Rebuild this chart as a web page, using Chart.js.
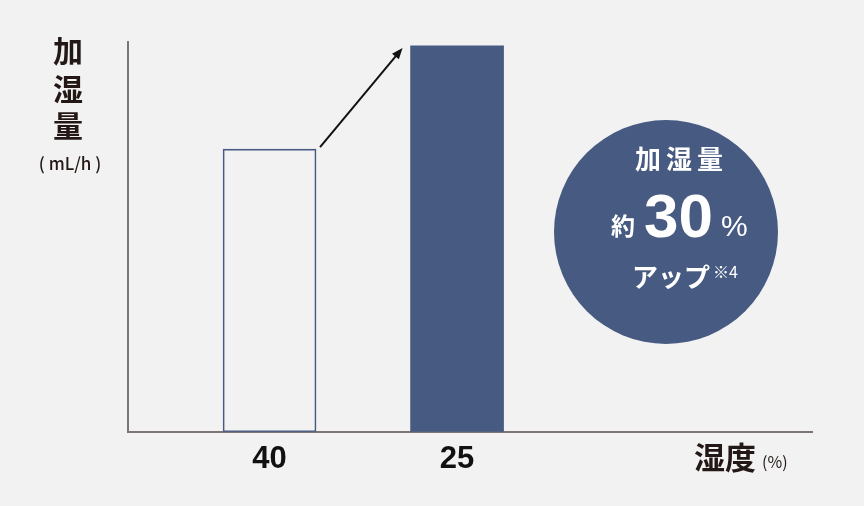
<!DOCTYPE html>
<html lang="ja">
<head>
<meta charset="utf-8">
<title>加湿量</title>
<script src="https://cdn.jsdelivr.net/npm/chart.js@4.4.1/dist/chart.umd.min.js"></script>
<style>
  html, body { margin: 0; padding: 0; background: #f2f2f2; }
  #wrap { width: 864px; height: 506px; position: relative; }
</style>
</head>
<body>
<div id="wrap"><canvas id="chart"></canvas></div>
<script>
// humidity setting (%) on the x axis
const humidity = ["40", "25"];
// humidification amount (relative units)
const amount = [72.5, 99];
const yMax = 100;

const NAVY = "#465a82";
const INK = "#231815";
const AXIS = "#7d7575";
const JP = "'Noto Sans CJK JP', 'Noto Sans', sans-serif";
const LATIN = "'Liberation Sans', Arial, sans-serif";

// arrow from the old bar to the new one
const arrowPlugin = {
  id: "arrow",
  afterDatasetsDraw(chart) {
    const bars = chart.getDatasetMeta(0).data;
    if (bars.length < 2) return;
    const a = bars[0], b = bars[1];
    const x1 = a.x + a.width / 2 + 4, y1 = a.y - 2;
    const x2 = b.x - b.width / 2 - 8, y2 = b.y + 2;
    const ctx = chart.ctx;
    const ang = Math.atan2(y2 - y1, x2 - x1);
    const head = 12;
    ctx.save();
    ctx.strokeStyle = "#111";
    ctx.fillStyle = "#111";
    ctx.lineWidth = 2;
    ctx.beginPath();
    ctx.moveTo(x1, y1);
    ctx.lineTo(x2 - Math.cos(ang) * head * 0.8, y2 - Math.sin(ang) * head * 0.8);
    ctx.stroke();
    ctx.beginPath();
    ctx.moveTo(x2, y2);
    ctx.lineTo(x2 - head * Math.cos(ang - 0.38), y2 - head * Math.sin(ang - 0.38));
    ctx.lineTo(x2 - head * Math.cos(ang + 0.38), y2 - head * Math.sin(ang + 0.38));
    ctx.closePath();
    ctx.fill();
    ctx.restore();
  },
};

// axis titles and the round callout
const labelsPlugin = {
  id: "labels",
  afterDraw(chart) {
    const ctx = chart.ctx;
    ctx.save();
    ctx.textAlign = "center";
    ctx.textBaseline = "middle";

    // y title, stacked vertically
    ctx.fillStyle = INK;
    ctx.font = "bold 30px " + JP;
    ["加", "湿", "量"].forEach((ch, i) => ctx.fillText(ch, 68, 51 + i * 37.5));
    ctx.font = "500 17px " + JP;
    ctx.fillText("( mL/h )", 70, 164);

    // x title
    ctx.textAlign = "left";
    ctx.font = "bold 31px " + JP;
    ctx.fillText("湿度", 694, 457);
    ctx.font = "16px " + JP;
    ctx.fillText("(%)", 762, 462);

    // callout circle
    ctx.fillStyle = NAVY;
    ctx.beginPath();
    ctx.arc(666, 232, 112, 0, Math.PI * 2);
    ctx.fill();

    ctx.fillStyle = "#ffffff";
    ctx.textAlign = "center";
    ctx.font = "bold 26px " + JP;
    ["加", "湿", "量"].forEach((ch, i) => ctx.fillText(ch, 648 + i * 31, 159));

    ctx.textAlign = "left";
    ctx.font = "bold 24px " + JP;
    ctx.fillText("約", 611, 226);
    ctx.font = "bold 62px " + LATIN;
    ctx.fillText("30", 644, 220);
    ctx.font = "30px " + LATIN;
    ctx.fillText("%", 721, 228);

    ctx.font = "bold 26px " + JP;
    ctx.fillText("アップ", 632, 277);
    ctx.font = "16px " + JP;
    ctx.fillText("※4", 713, 272);
    ctx.restore();
  },
};

new Chart(document.getElementById("chart"), {
  type: "bar",
  data: {
    datasets: [
      {
        data: humidity.map((h, i) => ({ x: i + 1, y: amount[i] })),
        backgroundColor: ["rgba(0,0,0,0)", NAVY],
        borderColor: [NAVY, NAVY],
        borderWidth: [1, 0],
        borderSkipped: false,
        barThickness: 93,
      },
    ],
  },
  options: {
    responsive: true,
    maintainAspectRatio: false,
    animation: false,
    layout: { padding: { left: 128, right: 52, top: 42, bottom: 19 } },
    plugins: {
      legend: { display: false },
      tooltip: { enabled: false },
    },
    scales: {
      x: {
        type: "linear",
        offset: false,
        min: 0.245,
        max: 3.893,
        afterBuildTicks: (scale) => {
          scale.ticks = humidity.map((h, i) => ({ value: i + 1 }));
        },
        ticks: {
          callback: (v) => humidity[v - 1] || "",
          color: "#111",
          font: { family: LATIN, size: 31, weight: "bold" },
          padding: 9,
          maxRotation: 0,
          autoSkip: false,
        },
        grid: { display: false, drawTicks: false },
        border: { display: true, color: AXIS, width: 2 },
      },
      y: {
        min: 0,
        max: yMax,
        ticks: { display: false },
        grid: { display: false, drawTicks: false },
        border: { display: true, color: AXIS, width: 2 },
      },
    },
  },
  plugins: [arrowPlugin, labelsPlugin],
});
</script>
</body>
</html>
